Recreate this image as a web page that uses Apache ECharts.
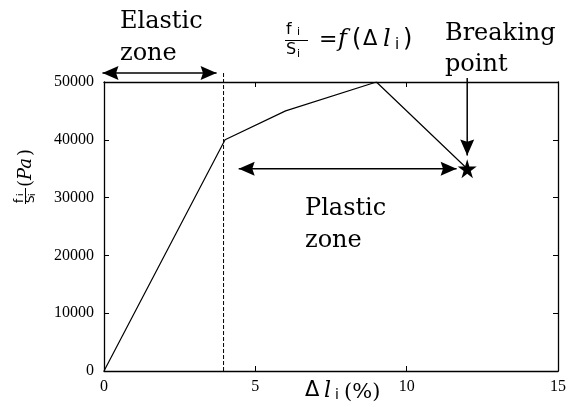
<!DOCTYPE html>
<html>
<head>
<meta charset="utf-8" />
<title>stress - strain</title>
<script src="https://cdn.jsdelivr.net/npm/echarts@6/dist/echarts.min.js"></script>
<style>
  html, body { margin: 0; padding: 0; background: #fff; }
  #main { width: 569px; height: 407px; }
</style>
</head>
<body>
<div id="main"></div>
<script>
// data
var strainPts = [0, 4, 6, 9, 12];                 // Δl (%)
var stressPts = [0, 40000, 45000, 50000, 35000];  // f/S (Pa)
var breakPoint = [12, 35000];
var elasticLimit = 3.95;                          // dashed line
var xTicks = [0, 5, 10, 15];
var yTicks = [0, 10000, 20000, 30000, 40000, 50000];

// annotation arrows (data coords), [from, to, both heads?]
var elasticArrow = [[-0.05, 51550], [3.72, 51550], true];
var plasticArrow = [[4.45, 35000], [11.65, 35000], true];
var breakArrow = [[12, 50700], [12, 37300], false];
var dashedTop = 51600;

var lineData = strainPts.map(function (x, i) { return [x, stressPts[i]]; });

var tickFont = 'Liberation Serif';
var starPath = 'path://M50,0 L61,35 L98,35 L68,57 L79,91 L50,70 L21,91 L32,57 L2,35 L39,35 Z';
var blk = '#000';

var myChart = echarts.init(document.getElementById('main'));

function axisBase(pos, showLabel, isX) {
    var ticks = isX ? xTicks : yTicks;
    return {
        type: 'value',
        position: pos,
        min: ticks[0],
        max: ticks[ticks.length - 1],
        interval: ticks[1] - ticks[0],
        splitLine: { show: false },
        axisLine: { show: true, onZero: false, lineStyle: { color: blk, width: 1.3 } },
        axisTick: { show: true, inside: true, length: 5, lineStyle: { color: blk, width: 1 } },
        axisLabel: {
            show: showLabel,
            color: blk,
            fontFamily: tickFont,
            fontSize: 16,
            margin: isX ? 8 : 10,
            showMaxLabel: true,
            formatter: function (v) { return String(v); }
        }
    };
}

function txt(str, x, y, font) {
    return {
        type: 'text', silent: true,
        style: { text: str, x: x, y: y, font: font, fill: blk, align: 'left', verticalAlign: 'middle' }
    };
}

var serif24 = '24px "DejaVu Serif"';

var option = {
    backgroundColor: '#fff',
    animation: false,
    grid: { left: 104, right: 5, top: 82, bottom: 36, containLabel: false },
    xAxis: [axisBase('bottom', true, true), axisBase('top', false, true)],
    yAxis: [axisBase('left', true, false), axisBase('right', false, false)],
    series: [
        {
            type: 'line',
            data: lineData,
            showSymbol: false,
            symbol: 'none',
            lineStyle: { color: blk, width: 1.2 }
        },
        {
            type: 'scatter',
            data: [breakPoint],
            symbol: starPath,
            symbolSize: 19,
            itemStyle: { color: blk, opacity: 1 },
            z: 5
        }
    ],
    graphic: [
        // zone labels
        txt('Elastic', 120, 22, serif24),
        txt('zone', 120, 54, serif24),
        txt('Breaking', 445, 34, serif24),
        txt('point', 445, 65, serif24),
        txt('Plastic', 305, 209, serif24),
        txt('zone', 305, 241, serif24),
        // title formula  f_i / S_i = f(Δ l_i)
        txt('f', 286, 30, '16px "DejaVu Sans"'),
        txt('i', 297, 32, '11px "DejaVu Sans"'),
        { type: 'line', silent: true, shape: { x1: 285, y1: 40.5, x2: 308, y2: 40.5 }, style: { stroke: blk, lineWidth: 1 } },
        txt('S', 286, 50, '16px "DejaVu Sans"'),
        txt('i', 297, 54, '11px "DejaVu Sans"'),
        txt('=', 319, 40, '22px "DejaVu Sans"'),
        txt('f', 338, 40, 'italic 24px "DejaVu Serif"'),
        txt('(', 352, 40, '24px "DejaVu Sans"'),
        txt('\u0394', 363, 40, '21px "DejaVu Sans"'),
        txt('l', 383, 40, 'italic 24px "DejaVu Serif"'),
        txt('i', 395, 45, '15px "DejaVu Sans"'),
        txt(')', 403, 40, '24px "DejaVu Sans"'),
        // x axis title  Δ l_i (%)
        txt('\u0394', 305, 391, '21px "DejaVu Sans"'),
        txt('l', 324, 391, 'italic 22px "DejaVu Serif"'),
        txt('i', 335, 395, '14px "DejaVu Sans"'),
        txt('(%)', 344, 393, '21px "DejaVu Serif"'),
        // y axis title, rotated  f_i/S_i (Pa)
        {
            type: 'group',
            x: 26, y: 170,
            rotation: Math.PI / 2,
            children: [
                txt('f', -33, -6, '12px "DejaVu Sans"'),
                txt('i', -26, -5, '9px "DejaVu Sans"'),
                { type: 'line', silent: true, shape: { x1: -34, y1: -0.5, x2: -18, y2: -0.5 }, style: { stroke: blk, lineWidth: 1 } },
                txt('S', -33, 5, '12px "DejaVu Sans"'),
                txt('i', -26, 7, '9px "DejaVu Sans"'),
                txt('(', -17, 0, '18px "DejaVu Serif"'),
                txt('Pa', -10, 0, 'italic 18px "DejaVu Serif"'),
                txt(')', 14, 0, '18px "DejaVu Serif"')
            ]
        }
    ]
};
myChart.setOption(option);

// arrows and the dashed limit drawn in pixel space, converted from data coords
function px(p) { return myChart.convertToPixel({ gridIndex: 0 }, p); }

function head(tip, from, len, half) {
    var dx = tip[0] - from[0], dy = tip[1] - from[1];
    var d = Math.sqrt(dx * dx + dy * dy);
    var ux = dx / d, uy = dy / d, nx = -uy, ny = ux;
    var bx = tip[0] - ux * len, by = tip[1] - uy * len;
    var mx = tip[0] - ux * len * 0.85, my = tip[1] - uy * len * 0.85;
    return {
        type: 'polygon', silent: true,
        shape: { points: [tip, [bx + nx * half, by + ny * half], [mx, my], [bx - nx * half, by - ny * half]] },
        style: { fill: blk }
    };
}

function arrow(a) {
    var p0 = px(a[0]), p1 = px(a[1]);
    var els = [
        { type: 'line', silent: true, shape: { x1: p0[0], y1: p0[1], x2: p1[0], y2: p1[1] }, style: { stroke: blk, lineWidth: 1.5 } },
        head(p1, p0, 16, 7)
    ];
    if (a[2]) els.push(head(p0, p1, 16, 7));
    return els;
}

var extra = [];
var d0 = px([elasticLimit, yTicks[0]]), d1 = px([elasticLimit, dashedTop]);
extra.push({ type: 'line', silent: true, shape: { x1: d0[0], y1: d0[1], x2: d1[0], y2: d1[1] },
    style: { stroke: blk, lineWidth: 1, lineDash: [4, 2] } });
[elasticArrow, plasticArrow, breakArrow].forEach(function (a) { extra = extra.concat(arrow(a)); });

myChart.setOption({ graphic: option.graphic.concat(extra) });
</script>
</body>
</html>
